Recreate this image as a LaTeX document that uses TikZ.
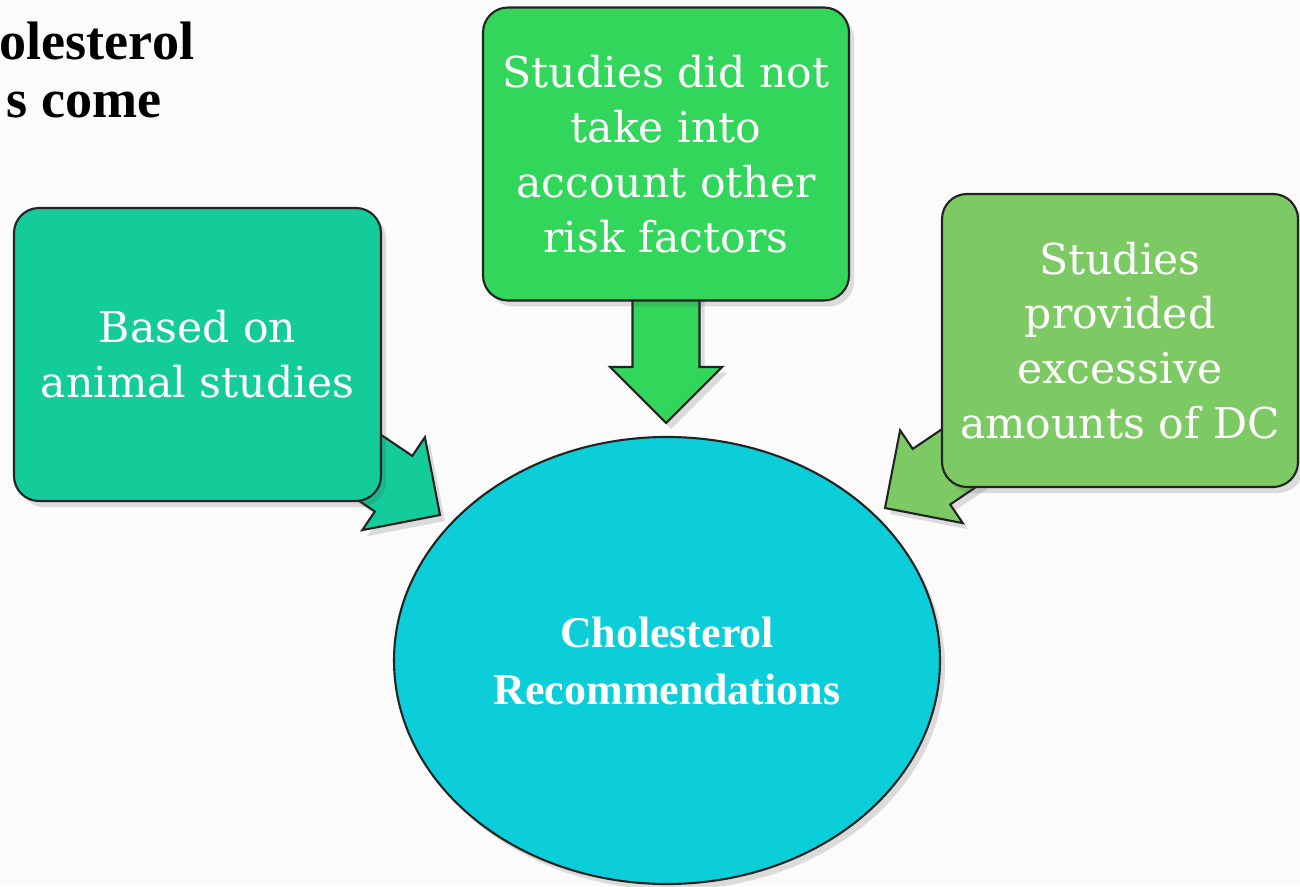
\documentclass[tikz,border=0pt]{standalone}
\usepackage{fontspec}
\setmainfont{Liberation Serif}
\newfontfamily\boxfont{DejaVu Serif}
\usetikzlibrary{shapes.geometric,shadows}

\definecolor{tealbox}{RGB}{20,204,154}
\definecolor{greenbox}{RGB}{50,214,90}
\definecolor{limebox}{RGB}{125,202,100}
\definecolor{cyanoval}{RGB}{11,206,216}
\definecolor{edgegray}{RGB}{35,35,35}
\definecolor{paper}{RGB}{251,251,251}

\tikzset{
  softshadow/.style={drop shadow={shadow xshift=0.5mm,shadow yshift=-0.6mm,opacity=0.18,fill=black!70}},
  causebox/.style={draw=edgegray,line width=0.6pt,rounded corners=2.5mm,
    minimum height=2.93cm,inner sep=0pt,align=center,text=white,
    font=\boxfont\fontsize{12.1}{15.6}\selectfont,softshadow},
  pics/blockarrow/.style={code={
    \filldraw[fill=#1,draw=edgegray,line width=0.6pt,softshadow]
      (0,0) -- (-0.56,0.56) -- (-0.56,0.335) -- (-1.9,0.335)
      -- (-1.9,-0.335) -- (-0.56,-0.335) -- (-0.56,-0.56) -- cycle;
  }}
}

\begin{document}
\begin{tikzpicture}
  \fill[paper] (0,0) rectangle (13,8.86);
  \useasboundingbox (0,0) rectangle (13,8.86);

  % title, cut off at the left edge
  \node[anchor=base west,inner sep=0pt,font=\bfseries\fontsize{15.4}{16.5}\selectfont]
    (title1) at (-0.01,8.26) {olesterol};
  \node[anchor=base west,inner sep=0pt,font=\bfseries\fontsize{15.4}{16.5}\selectfont]
    (title2) at (0.06,7.68) {s come};

  % arrows (tails hidden under the boxes)
  \coordinate (tipL) at (4.40,3.71);
  \coordinate (tipT) at (6.66,4.63);
  \coordinate (tipR) at (8.85,3.78);
  \pic[rotate=-34] at (tipL) {blockarrow=tealbox};
  \pic[rotate=-90] at (tipT) {blockarrow=greenbox};
  \pic[rotate=214] at (tipR) {blockarrow=limebox};

  % boxes
  \node[causebox,fill=tealbox,minimum width=3.67cm] (animal) at (1.975,5.315)
    {Based on\\animal studies};
  \node[causebox,fill=greenbox,minimum width=3.66cm] (factors) at (6.66,7.32)
    {Studies did not\\take into\\account other\\risk factors};
  \node[causebox,fill=limebox,minimum width=3.56cm] (excess) at (11.20,5.455)
    {Studies\\provided\\excessive\\amounts of DC};

  % centre
  \node[ellipse,draw=edgegray,line width=0.6pt,fill=cyanoval,softshadow,
    minimum width=5.46cm,minimum height=4.47cm,inner sep=0pt,align=center,text=white,
    font=\bfseries\fontsize{12.5}{16.2}\selectfont] (chol) at (6.67,2.255)
    {Cholesterol\\Recommendations};
\end{tikzpicture}
\end{document}
